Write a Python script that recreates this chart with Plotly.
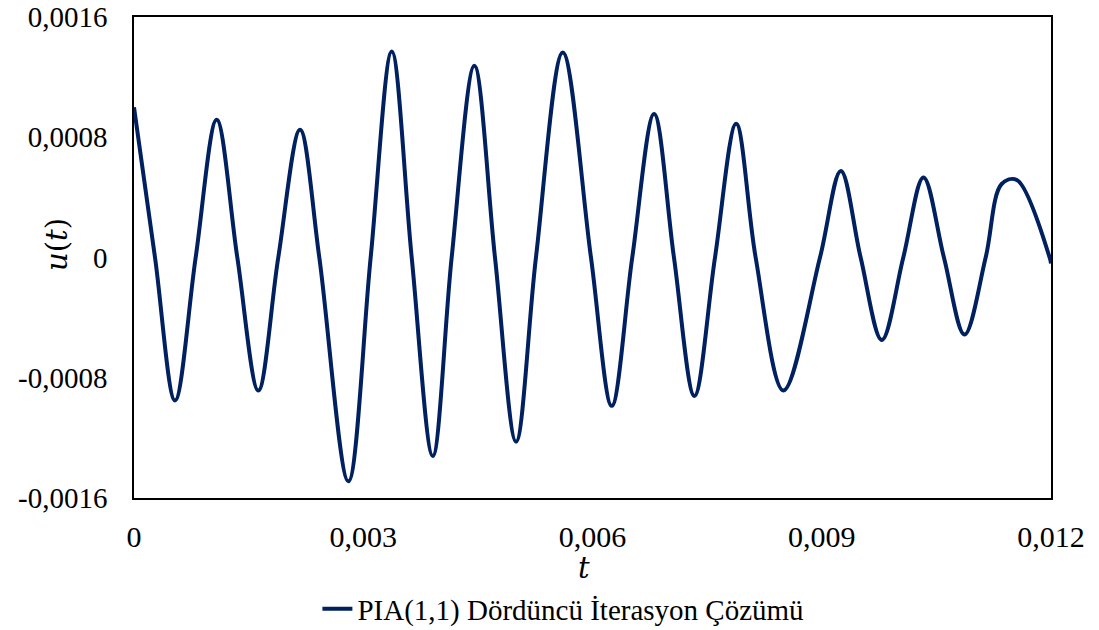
import plotly.graph_objects as go

# Values (extrema, zero crossings, end points)
t_values = [0.0, 0.000275, 0.000537, 0.000807, 0.001082, 0.001352, 0.001627, 0.001888,
            0.002173, 0.002425, 0.002805, 0.003097, 0.003373, 0.003634, 0.00391, 0.004157,
            0.004454, 0.004724, 0.005, 0.00526, 0.005611, 0.00598, 0.006252, 0.00652,
            0.006806, 0.007066, 0.007334, 0.007603, 0.00788, 0.008135, 0.008499, 0.008977,
            0.00925, 0.009509, 0.009786, 0.010067, 0.010331, 0.010599, 0.010868, 0.011145,
            0.011354, 0.011553, 0.011982, 0.012]
u_values = [0.001, 0.0, -0.000951, 0.0, 0.000916, 0.0, -0.000885, 0.0,
            0.00085, 0.0, -0.001489, 0.0, 0.001371, 0.0, -0.001321, 0.0,
            0.001275, 0.0, -0.001225, 0.0, 0.001364, 0.0, -0.000987, 0.0,
            0.000955, 0.0, -0.000921, 0.0, 0.000889, 0.0, -0.000885, 0.0,
            0.000576, 0.0, -0.000549, 0.0, 0.000533, 0.0, -0.000513, 0.0,
            0.000489, 0.000516, 0.0, -0.00004]

x_tick_vals = [0, 0.003, 0.006, 0.009, 0.012]
x_tick_text = ["0", "0,003", "0,006", "0,009", "0,012"]
y_tick_vals = [0.0016, 0.0008, 0, -0.0008, -0.0016]
y_tick_text = ["0,0016", "0,0008", "0", "-0,0008", "-0,0016"]

series_name = "PIA(1,1) Dördüncü İterasyon Çözümü"
x_title = "<i>t</i>"
y_title = "<i>u</i>(<i>t</i>)"

TOP, BOTTOM = 17, 498
PH = BOTTOM - TOP

fig = go.Figure()
fig.add_trace(go.Scatter(
    x=t_values, y=u_values, mode="lines", name=series_name,
    line=dict(color="#002060", width=4, shape="spline", smoothing=1.0),
))

fig.update_layout(
    width=1099, height=630,
    margin=dict(l=134, r=48, t=TOP, b=630 - BOTTOM, autoexpand=False),
    paper_bgcolor="white", plot_bgcolor="white",
    font=dict(family="Liberation Serif", color="black"),
    showlegend=True,
    legend=dict(orientation="h", x=0.2, xanchor="left", y=(BOTTOM - 609) / PH, yanchor="middle",
                font=dict(family="Liberation Serif", size=29, color="black"),
                bgcolor="rgba(0,0,0,0)"),
    annotations=[
        dict(text=y_title, xref="paper", yref="paper", x=(57 - 134) / 917, y=(BOTTOM - 245) / PH,
             xanchor="center", yanchor="middle", textangle=-90, showarrow=False,
             font=dict(family="DejaVu Serif", size=29, color="black")),
        dict(text=x_title, xref="paper", yref="paper", x=(584 - 134) / 917, y=(BOTTOM - 568) / PH,
             xanchor="center", yanchor="middle", showarrow=False,
             font=dict(family="DejaVu Serif", size=29, color="black")),
    ],
)

fig.update_xaxes(
    range=[0, 0.012], tickvals=x_tick_vals, ticktext=x_tick_text, automargin=False,
    showgrid=False, zeroline=False, ticklabeloverflow="allow",
    showline=True, linecolor="black", linewidth=1.5, mirror=True,
    ticks="outside", ticklen=11, tickcolor="rgba(0,0,0,0)",
    tickfont=dict(family="Liberation Serif", size=30, color="black"),
)
fig.update_yaxes(
    range=[-0.0016, 0.0016], tickvals=y_tick_vals, ticktext=y_tick_text, automargin=False,
    showgrid=False, zeroline=False, ticklabeloverflow="allow",
    showline=True, linecolor="black", linewidth=1.5, mirror=True,
    ticks="outside", ticklen=19, tickcolor="rgba(0,0,0,0)",
    tickfont=dict(family="Liberation Serif", size=29, color="black"),
)

fig.write_html("out.html")
